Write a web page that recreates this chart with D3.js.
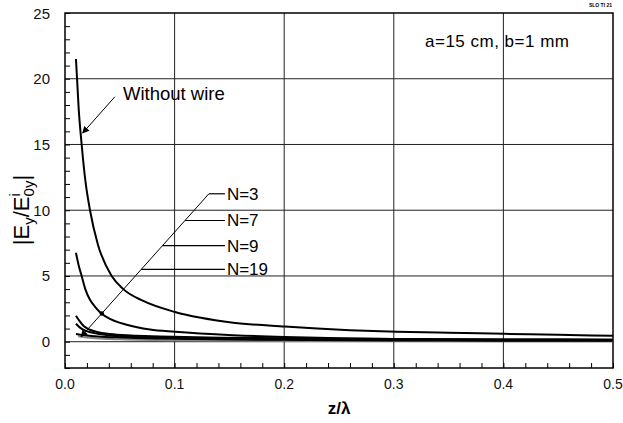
<!DOCTYPE html>
<html><head><meta charset="utf-8">
<script src="https://cdn.jsdelivr.net/npm/d3@7"></script>
<style>body{margin:0;background:#fff}svg{display:block}text{font-family:"Liberation Sans",Arial,sans-serif}</style>
</head><body><svg id="c" width="623" height="423"></svg>
<script>
// ---- data ----
const xTicks = [0.0, 0.1, 0.2, 0.3, 0.4, 0.5];
const xTickLabels = ["0.0", "0.1", "0.2", "0.3", "0.4", "0.5"];
const yTicks = [0, 5, 10, 15, 20, 25];
const yTickLabels = ["0", "5", "10", "15", "20", "25"];
const withoutWire = [[0.010,21.5],[0.0125,17.7],[0.0152,15.0],[0.0185,12.3],[0.0228,10.0],[0.03,7.4],[0.0426,5.0],[0.0532,4.0],[0.0714,3.1],[0.1003,2.26],[0.1535,1.45],[0.2006,1.15],[0.26,0.88],[0.3025,0.76],[0.35,0.68],[0.401,0.6],[0.45,0.52],[0.5,0.45]];
const curveN3 = [[0.010,6.76],[0.0125,5.8],[0.0152,5.0],[0.0185,4.0],[0.0228,3.19],[0.028,2.6],[0.0335,2.13],[0.042,1.7],[0.0563,1.29],[0.0775,0.93],[0.1003,0.76],[0.153,0.5],[0.2,0.36],[0.25,0.27],[0.3,0.21],[0.4,0.17],[0.5,0.15]];
const curveN7 = [[0.010,1.98],[0.013,1.6],[0.017,1.2],[0.0228,0.91],[0.03,0.72],[0.041,0.58],[0.06,0.47],[0.087,0.4],[0.12,0.33],[0.2,0.26],[0.3,0.2],[0.4,0.17],[0.5,0.15]];
const curveN9 = [[0.010,1.37],[0.014,1.05],[0.0198,0.8],[0.03,0.6],[0.041,0.47],[0.06,0.37],[0.087,0.3],[0.12,0.25],[0.2,0.18],[0.3,0.14],[0.4,0.12],[0.5,0.11]];
const curveN19 = [[0.010,0.58],[0.015,0.52],[0.02,0.47],[0.03,0.4],[0.05,0.32],[0.087,0.24],[0.12,0.2],[0.2,0.14],[0.3,0.1],[0.4,0.08],[0.5,0.07]];
const curveGray = [[0.012,0.42],[0.02,0.32],[0.05,0.18],[0.1,0.11],[0.2,0.07],[0.3,0.05],[0.5,0.04]];
const labelNames = ["N=3", "N=7", "N=9", "N=19"];
const labelY = [11.25, 9.22, 7.3, 5.5];
const leaderFrom = [0.1313, 11.25];
const leaderTo = [0.0146, 0.38];
const leaderEndX = 0.1459;
const wwArrowFrom = [0.0455, 18.63];
const wwArrowTo = [0.0161, 15.87];

// ---- layout ----
const svg = d3.select("#c");
const L = 65, R = 613, T = 13, B = 368;
const x = d3.scaleLinear().domain([0, 0.5]).range([L, R]);
const y = d3.scaleLinear().domain([-2, 25]).range([B, T]);

svg.append("defs").append("marker").attr("id","ah").attr("viewBox","0 0 10 10")
  .attr("refX",9).attr("refY",5).attr("markerWidth",9).attr("markerHeight",7)
  .attr("markerUnits","userSpaceOnUse").attr("orient","auto")
  .append("path").attr("d","M0,0L10,5L0,10Z").attr("fill","#000");

// grid
svg.append("g").selectAll("line").data(xTicks.filter(d=>d>0&&d<0.5)).join("line")
  .attr("x1",d=>x(d)).attr("x2",d=>x(d)).attr("y1",T).attr("y2",B)
  .attr("stroke","#222").attr("stroke-width",1);
svg.append("g").selectAll("line").data(yTicks.filter(d=>d<25)).join("line")
  .attr("x1",L).attr("x2",R).attr("y1",d=>y(d)).attr("y2",d=>y(d))
  .attr("stroke","#222").attr("stroke-width",1);

// axes with inward minor ticks
const xAxis = d3.axisBottom(x).tickValues(d3.range(0, 0.5001, 0.02)).tickSize(-5).tickFormat("");
svg.append("g").attr("transform",`translate(0,${B})`).call(xAxis)
  .call(g=>g.select(".domain").remove()).selectAll("line").attr("stroke","#000");
const yAxis = d3.axisLeft(y).tickValues(d3.range(-2, 25.01, 1)).tickSize(-5).tickFormat("");
svg.append("g").attr("transform",`translate(${L},0)`).call(yAxis)
  .call(g=>g.select(".domain").remove()).selectAll("line").attr("stroke","#000");

// tick labels
svg.append("g").selectAll("text").data(xTicks).join("text")
  .attr("x",d=>x(d)).attr("y",389).attr("text-anchor","middle")
  .attr("font-size",14).attr("fill","#111").text((d,i)=>xTickLabels[i]);
svg.append("g").selectAll("text").data(yTicks).join("text")
  .attr("x",50).attr("y",d=>y(d)+5.5).attr("text-anchor","end")
  .attr("font-size",15).attr("fill","#111").text((d,i)=>yTickLabels[i]);

// frame
svg.append("rect").attr("x",L).attr("y",T).attr("width",R-L).attr("height",B-T)
  .attr("fill","none").attr("stroke","#000").attr("stroke-width",1.5);

// curves
const line = d3.line().x(d=>x(d[0])).y(d=>y(d[1])).curve(d3.curveMonotoneX);
svg.append("path").datum(curveGray).attr("d",line).attr("fill","none").attr("stroke","#888").attr("stroke-width",2);
[withoutWire, curveN3, curveN7, curveN9, curveN19].forEach(s=>{
  svg.append("path").datum(s).attr("d",line).attr("fill","none").attr("stroke","#000").attr("stroke-width",2);
});

// annotations
svg.append("line").attr("x1",x(wwArrowFrom[0])).attr("y1",y(wwArrowFrom[1]))
  .attr("x2",x(wwArrowTo[0])).attr("y2",y(wwArrowTo[1]))
  .attr("stroke","#000").attr("stroke-width",1).attr("marker-end","url(#ah)");
svg.append("text").attr("x",123).attr("y",y(18.9)+6.5).attr("font-size",18.5).text("Without wire");

svg.append("line").attr("x1",x(leaderFrom[0])).attr("y1",y(leaderFrom[1]))
  .attr("x2",x(leaderTo[0])).attr("y2",y(leaderTo[1]))
  .attr("stroke","#000").attr("stroke-width",1).attr("marker-end","url(#ah)");
const diagX = v => leaderTo[0] + (leaderFrom[0]-leaderTo[0])*(v-leaderTo[1])/(leaderFrom[1]-leaderTo[1]);
svg.append("circle").attr("cx",x(diagX(2.15))).attr("cy",y(2.15)).attr("r",2.2).attr("fill","#000");
labelNames.forEach((n,i)=>{
  svg.append("line").attr("x1",x(diagX(labelY[i]))).attr("x2",x(leaderEndX))
    .attr("y1",y(labelY[i])).attr("y2",y(labelY[i])).attr("stroke","#000").attr("stroke-width",1.2);
  svg.append("text").attr("x",x(leaderEndX)+2).attr("y",y(labelY[i])+6)
    .attr("font-size",17).text(n);
});

svg.append("text").attr("x",425).attr("y",47).attr("font-size",17).attr("letter-spacing",0.5).text("a=15 cm, b=1 mm");
svg.append("text").attr("x",612).attr("y",7).attr("text-anchor","end").attr("font-size",5).attr("font-weight","bold").text("SLO TI 21");

// axis titles
svg.append("text").attr("x",x(0.25)).attr("y",414).attr("text-anchor","middle")
  .attr("font-size",17).attr("font-weight","bold").text("z/λ");
const yt = svg.append("text").attr("transform","translate(29,210) rotate(-90)")
  .attr("text-anchor","middle").attr("font-size",22);
yt.append("tspan").text("|E");
yt.append("tspan").attr("font-size",15).attr("dy",5).text("y");
yt.append("tspan").attr("dy",-5).text("/E");
yt.append("tspan").attr("font-size",14).attr("dy",-9).text("i");
yt.append("tspan").attr("font-size",15).attr("dx",-3).attr("dy",14).text("0y");
yt.append("tspan").attr("dy",-5).text("|");
</script></body></html>
